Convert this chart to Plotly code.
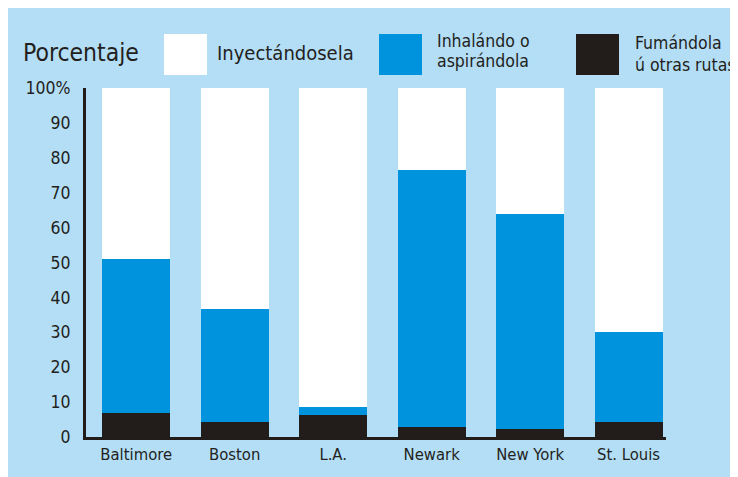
import plotly.graph_objects as go

cities = ["Baltimore", "Boston", "L.A.", "Newark", "New York", "St. Louis"]
smoking = [7.0, 4.2, 6.2, 3.0, 2.4, 4.2]        # Fumándola ú otras rutas
inhaling = [44.0, 32.4, 2.3, 73.6, 61.6, 25.8]  # Inhalándo o aspirándola
injecting = [49.0, 63.4, 91.5, 23.4, 36.0, 70.0]  # Inyectándosela

y_ticks = [0, 10, 20, 30, 40, 50, 60, 70, 80, 90, 100]
y_tick_text = ["0", "10", "20", "30", "40", "50", "60", "70", "80", "90", "100%"]

LIGHT = "#b3def6"
BLUE = "#0093dd"
BLACK = "#221c1a"
TEXT = "#231f20"
FONT = "DejaVu Sans Condensed, Liberation Sans Narrow, sans-serif"

W, H = 730, 469
ML, MR, MT, MB = 78, 72, 80, 40
PW, PH = W - ML - MR, H - MT - MB


def px(x):
    return (x - ML) / PW


def py(y):
    return (H - MB - y) / PH


fig = go.Figure()
fig.add_bar(x=cities, y=smoking, marker=dict(color=BLACK, line=dict(width=0)), name="Fumándola ú otras rutas")
fig.add_bar(x=cities, y=inhaling, marker=dict(color=BLUE, line=dict(width=0)), name="Inhalándo o aspirándola")
fig.add_bar(x=cities, y=injecting, marker=dict(color="white", line=dict(width=0)), name="Inyectándosela")

shapes = []
for x0, col in [(156, "white"), (371, BLUE), (568, BLACK)]:
    shapes.append(dict(type="rect", xref="paper", yref="paper", x0=px(x0), x1=px(x0 + 43),
                       y0=py(67), y1=py(26), fillcolor=col, line=dict(width=0)))

annotations = []


def label(text, x, y, size):
    annotations.append(dict(text=text, xref="paper", yref="paper", x=px(x), y=py(y),
                            xanchor="left", yanchor="middle", showarrow=False,
                            font=dict(family=FONT, size=size, color=TEXT)))


label("Porcentaje", 13, 45, 24.5)
label("Inyectándosela", 207, 45, 20)
label("Inhalándo o", 427, 33, 17.5)
label("aspirándola", 427, 53, 17.5)
label("Fumándola", 625, 35, 17.5)
label("ú otras rutas", 625, 57, 17.5)

fig.update_layout(
    width=W, height=H,
    margin=dict(l=ML, r=MR, t=MT, b=MB, pad=0),
    paper_bgcolor=LIGHT, plot_bgcolor=LIGHT,
    barmode="stack", bargap=0.31, showlegend=False,
    shapes=shapes, annotations=annotations,
    font=dict(family=FONT, color=TEXT),
)
fig.update_xaxes(range=[-0.51, 5.38], showgrid=False, zeroline=False,
                 showline=True, linewidth=3, linecolor=BLACK, ticks="",
                 tickfont=dict(family=FONT, size=16.5, color=TEXT))
fig.update_yaxes(range=[0, 100], tickvals=y_ticks, ticktext=y_tick_text,
                 showgrid=False, zeroline=False, showline=True, linewidth=3,
                 linecolor=BLACK, ticks="", ticklabelstandoff=9,
                 tickfont=dict(family=FONT, size=17.5, color=TEXT))

fig.write_html("out.html")
